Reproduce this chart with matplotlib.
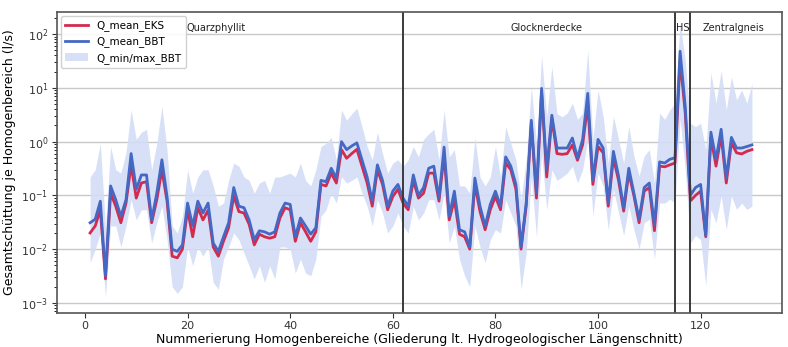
import matplotlib
matplotlib.use("Agg")
import matplotlib.pyplot as plt
import numpy as np

# Homogenbereiche 1..130
hb = np.arange(1, 131)

q_mean_bbt = [
    0.031, 0.036, 0.078, 0.0032, 0.15, 0.083, 0.041, 0.083, 0.60, 0.13,
    0.24, 0.24, 0.035, 0.11, 0.46, 0.095, 0.010, 0.0091, 0.012, 0.072,
    0.027, 0.078, 0.047, 0.072, 0.013, 0.0091, 0.017, 0.031, 0.14, 0.063,
    0.059, 0.035, 0.015, 0.022, 0.021, 0.019, 0.021, 0.047, 0.072, 0.068,
    0.017, 0.038, 0.027, 0.019, 0.025, 0.19, 0.18, 0.32, 0.21, 1.0,
    0.71, 0.83, 0.95, 0.46, 0.22, 0.078, 0.37, 0.19, 0.063, 0.12,
    0.16, 0.089, 0.063, 0.24, 0.10, 0.14, 0.32, 0.35, 0.089, 0.79,
    0.041, 0.12, 0.023, 0.021, 0.011, 0.21, 0.063, 0.027, 0.068, 0.12,
    0.063, 0.52, 0.35, 0.16, 0.011, 0.072, 2.5, 0.11, 9.8, 0.30,
    3.1, 0.76, 0.76, 0.76, 1.17, 0.50, 1.1, 7.9, 0.19, 1.1,
    0.76, 0.072, 0.66, 0.23, 0.059, 0.32, 0.11, 0.036, 0.14, 0.17,
    0.028, 0.42, 0.40, 0.47, 0.50, 48, 4.5, 0.10, 0.14, 0.16,
    0.018, 1.5, 0.47, 1.7, 0.21, 1.2, 0.76, 0.76, 0.81, 0.87,
]

q_mean_eks = [
    0.020, 0.027, 0.054, 0.0028, 0.11, 0.063, 0.031, 0.072, 0.37, 0.089,
    0.17, 0.18, 0.031, 0.083, 0.30, 0.078, 0.0074, 0.0069, 0.010, 0.054,
    0.017, 0.059, 0.035, 0.053, 0.011, 0.0074, 0.014, 0.025, 0.098, 0.050,
    0.047, 0.029, 0.012, 0.019, 0.017, 0.016, 0.017, 0.038, 0.059, 0.054,
    0.014, 0.031, 0.021, 0.014, 0.021, 0.16, 0.15, 0.26, 0.17, 0.71,
    0.49, 0.60, 0.72, 0.35, 0.17, 0.063, 0.30, 0.16, 0.054, 0.095,
    0.13, 0.072, 0.054, 0.19, 0.089, 0.11, 0.26, 0.26, 0.078, 0.56,
    0.035, 0.083, 0.019, 0.017, 0.010, 0.16, 0.050, 0.023, 0.054, 0.095,
    0.054, 0.40, 0.30, 0.13, 0.010, 0.063, 2.2, 0.089, 8.5, 0.22,
    2.7, 0.60, 0.58, 0.60, 0.87, 0.45, 0.87, 4.9, 0.16, 0.81,
    0.62, 0.063, 0.50, 0.19, 0.051, 0.26, 0.098, 0.031, 0.12, 0.14,
    0.022, 0.35, 0.34, 0.37, 0.40, 33, 3.4, 0.079, 0.10, 0.12,
    0.017, 1.2, 0.35, 1.3, 0.17, 0.95, 0.62, 0.59, 0.66, 0.71,
]

q_max_bbt = [
    0.22, 0.30, 0.93, 0.025, 0.81, 0.30, 0.26, 0.63, 3.9, 1.1,
    1.5, 1.7, 0.30, 0.93, 4.5, 0.71, 0.027, 0.020, 0.041, 0.30,
    0.11, 0.22, 0.30, 0.30, 0.15, 0.063, 0.072, 0.19, 0.40, 0.35,
    0.22, 0.19, 0.11, 0.17, 0.19, 0.11, 0.22, 0.22, 0.24, 0.26,
    0.22, 0.40, 0.19, 0.15, 0.30, 0.81, 0.93, 1.2, 0.46, 3.9,
    2.5, 3.3, 4.2, 1.9, 0.81, 0.46, 1.5, 0.60, 0.26, 0.40,
    0.46, 0.35, 0.46, 0.81, 0.52, 1.1, 1.4, 1.7, 0.46, 3.9,
    0.52, 0.71, 0.15, 0.15, 0.11, 1.2, 0.22, 0.15, 0.22, 0.81,
    0.22, 1.9, 0.93, 0.46, 0.083, 0.46, 10.5, 0.93, 40, 2.9,
    25, 3.3, 2.9, 3.4, 5.2, 2.6, 3.4, 50, 1.1, 9.1,
    3.0, 0.40, 3.0, 1.1, 0.40, 1.9, 0.54, 0.23, 0.54, 0.71,
    0.17, 3.4, 2.6, 3.9, 5.2, 160, 32, 2.2, 1.9, 2.2,
    0.71, 19, 5.2, 21, 3.9, 16, 6.0, 9.1, 5.2, 12,
]

q_min_bbt = [
    0.0056, 0.010, 0.020, 0.0013, 0.027, 0.027, 0.011, 0.027, 0.083, 0.035,
    0.054, 0.054, 0.013, 0.031, 0.063, 0.015, 0.0020, 0.0015, 0.0020, 0.011,
    0.0049, 0.011, 0.0074, 0.011, 0.0024, 0.0018, 0.0065, 0.011, 0.020, 0.015,
    0.0085, 0.0049, 0.0028, 0.0049, 0.0024, 0.0049, 0.0028, 0.011, 0.011, 0.010,
    0.0036, 0.0065, 0.0036, 0.0032, 0.0065, 0.041, 0.054, 0.11, 0.072, 0.22,
    0.17, 0.19, 0.22, 0.11, 0.063, 0.027, 0.083, 0.047, 0.020, 0.027,
    0.047, 0.027, 0.020, 0.063, 0.035, 0.047, 0.083, 0.083, 0.035, 0.11,
    0.013, 0.027, 0.0065, 0.0032, 0.0020, 0.027, 0.011, 0.0056, 0.015, 0.023,
    0.020, 0.083, 0.047, 0.027, 0.0018, 0.0085, 0.22, 0.017, 0.60, 0.054,
    0.30, 0.19, 0.22, 0.26, 0.35, 0.17, 0.30, 1.1, 0.042, 0.26,
    0.15, 0.023, 0.13, 0.048, 0.018, 0.063, 0.023, 0.010, 0.031, 0.036,
    0.0065, 0.072, 0.072, 0.085, 0.072, 2.6, 0.30, 0.013, 0.018, 0.015,
    0.0021, 0.055, 0.031, 0.098, 0.023, 0.098, 0.055, 0.072, 0.055, 0.063,
]

# Grenzen der geologischen Einheiten
borders = [62, 115, 118]
units = ["Quarzphyllit", "Glocknerdecke", "HS", "Zentralgneis"]
unit_x = [25.5, 90, 116.5, 126.5]

fig = plt.figure(figsize=(7.88, 3.47), dpi=100)
ax = fig.add_axes([0.072, 0.098, 0.92, 0.867])

ax.fill_between(hb, q_min_bbt, q_max_bbt, color='#d3ddf6', alpha=0.9,
                linewidth=0, label='Q_min/max_BBT')
ax.plot(hb, q_mean_eks, color='#d42a4e', linewidth=2, label='Q_mean_EKS')
ax.plot(hb, q_mean_bbt, color='#4468c4', linewidth=2, label='Q_mean_BBT')

for b in borders:
    ax.axvline(b, color='#3a3a3a', linewidth=1.4)

for name, xpos in zip(units, unit_x):
    ax.text(xpos, 130, name, ha='center', va='center', fontsize=7, color='#222222')

ax.set_yscale('log')
ax.set_ylim(6.5e-4, 256)
ax.set_xlim(-5.5, 135.8)
ax.set_xticks([0, 20, 40, 60, 80, 100, 120])
ax.grid(True, axis='y', which='major', color='#c8c8c8', linewidth=1)
ax.set_axisbelow(True)
ax.tick_params(axis='both', labelsize=8, colors='#333333', pad=2.5)
for s in ax.spines.values():
    s.set_color('#555555')
    s.set_linewidth(1.2)

ax.set_xlabel('Nummerierung Homogenbereiche (Gliederung lt. Hydrogeologischer Längenschnitt)',
              fontsize=9, labelpad=1)
ax.set_ylabel('Gesamtschüttung je Homogenbereich (l/s)', fontsize=9, labelpad=4)

handles, labels = ax.get_legend_handles_labels()
order = [1, 2, 0]
ax.legend([handles[i] for i in order], [labels[i] for i in order],
          loc='upper left', fontsize=7.5, framealpha=0.9, borderaxespad=0.4,
          handlelength=2.2)

fig.savefig('out.png', dpi=100)
